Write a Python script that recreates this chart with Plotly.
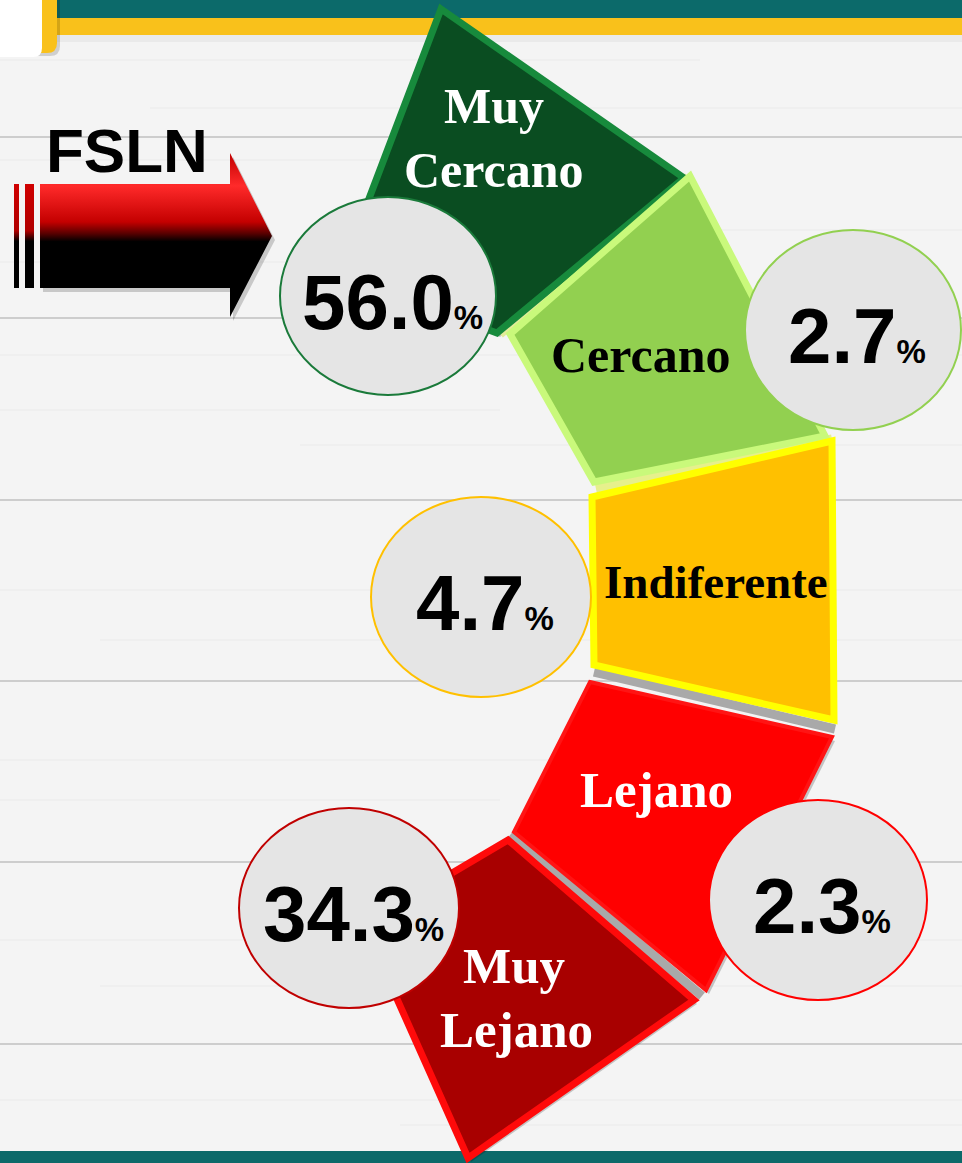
import plotly.graph_objects as go

# ---------------- data ----------------
categories = ["Muy Cercano", "Cercano", "Indiferente", "Lejano", "Muy Lejano"]
values = [56.0, 2.7, 4.7, 2.3, 34.3]
label_lines = [["Muy", "Cercano"], ["Cercano"], ["Indiferente"], ["Lejano"], ["Muy", "Lejano"]]
party = "FSLN"

# ---------------- styles / geometry ----------------
fill_colors = ["#0A4D21", "#92D050", "#FFC000", "#FF0000", "#A80000"]
edge_colors = ["#178A3C", "#C9F97B", "#FFFF00", "#FF1414", "#FF0A0A"]
edge_widths = [7, 7, 7, 4, 7]
label_colors = ["white", "black", "black", "white", "white"]
label_sizes = [50, 50, 47, 51, 51]
ring_colors = ["#1A7A3A", "#92D050", "#FFC000", "#FF0000", "#C00000"]

W, H = 962, 1163

segments = [
    [(441, 9), (684, 178), (497, 333), (340, 275)],
    [(690, 176), (825, 436), (594, 482), (510, 334)],
    [(592, 497), (832, 441), (834, 720), (594, 665)],
    [(590, 682), (832, 737), (706, 990), (514, 832)],
    [(508, 840), (694, 1000), (468, 1158), (364, 925)],
]
gaps = [  # boundary strips between neighbouring segments
    ((596, 489), (832, 439), "#E6F08C"),
    ((594, 672), (835, 729), "#A9A9A9"),
    ((510, 835), (702, 996), "#A9A9A9"),
    ((500, 334), (688, 177), "#E3EC9A"),
]
label_pos = [
    [(494, 106), (494, 170)],
    [(641, 355)],
    [(716, 582)],
    [(656, 790)],
    [(514, 966), (516, 1030)],
]
circles = [  # cx, cy, rx, ry  (one per category, same order)
    (388, 296, 108, 99),
    (853, 330, 108, 100),
    (481, 597, 110, 100),
    (818, 900, 109, 100),
    (349, 908, 110, 100),
]

plank_lines = [137, 318, 500, 681, 862, 1044]
faint_lines = [(60, 0, 700), (108, 150, 962), (160, 0, 400), (230, 600, 962), (262, 0, 300),
               (355, 0, 962), (410, 0, 500), (445, 300, 962), (590, 0, 962), (640, 100, 962),
               (760, 0, 800), (800, 0, 500), (940, 0, 962), (986, 100, 962), (1100, 0, 962),
               (1125, 400, 962)]

fig = go.Figure()
shapes = []
annotations = []

# background planks
for y, xa, xb in faint_lines:
    shapes.append(dict(type="line", xref="x", yref="y", x0=xa, x1=xb, y0=y, y1=y,
                       line=dict(color="#EAEAEA", width=1), layer="below"))
for y in plank_lines:
    shapes.append(dict(type="line", xref="x", yref="y", x0=0, x1=W, y0=y, y1=y,
                       line=dict(color="#CDCDCD", width=2), layer="below"))

# header bars
shapes.append(dict(type="rect", x0=0, x1=W, y0=0, y1=18, line_width=0, fillcolor="#0C6A6A", layer="below"))
shapes.append(dict(type="rect", x0=0, x1=W, y0=18, y1=35, line_width=0, fillcolor="#F9C11B", layer="below"))
shapes.append(dict(type="rect", x0=0, x1=W, y0=35, y1=42, line_width=0, fillcolor="rgba(0,0,0,0.04)", layer="below"))
# top-left box
shapes.append(dict(type="path", path="M 0 0 L 60 0 L 60 46 Q 60 56 50 56 L 0 56 Z",
                   line_width=0, fillcolor="rgba(0,0,0,0.15)", layer="below"))
shapes.append(dict(type="path", path="M 0 0 L 57 0 L 57 43 Q 57 53 47 53 L 0 53 Z",
                   line_width=0, fillcolor="#F9C11B", layer="below"))
shapes.append(dict(type="path", path="M 0 0 L 42 0 L 42 48 Q 42 57 33 57 L 0 57 Z",
                   line_width=0, fillcolor="#FFFFFF", layer="below"))
# footer bar
shapes.append(dict(type="rect", x0=0, x1=W, y0=1151, y1=H, line_width=0, fillcolor="#0C6A6A", layer="above"))


def poly_path(pts, dx=0, dy=0):
    return "M " + " L ".join(f"{x+dx} {y+dy}" for x, y in pts) + " Z"


# segment shadows
for i, pts in enumerate(segments):
    shapes.append(dict(type="path", path=poly_path(pts, 3, 4), line_width=0,
                       fillcolor="rgba(0,0,0,0.20)", layer="above"))
# gap strips
for (x0, y0), (x1, y1), col in gaps:
    shapes.append(dict(type="line", x0=x0, y0=y0, x1=x1, y1=y1,
                       line=dict(color=col, width=9), layer="above"))
# segments
for i, pts in enumerate(segments):
    shapes.append(dict(type="path", path=poly_path(pts), fillcolor=fill_colors[i],
                       line=dict(color=edge_colors[i], width=edge_widths[i]), layer="above"))

# circles with values
for i, (cx, cy, rx, ry) in enumerate(circles):
    shapes.append(dict(type="circle", x0=cx - rx, x1=cx + rx, y0=cy - ry, y1=cy + ry,
                       fillcolor="#E5E5E5", line=dict(color=ring_colors[i], width=2), layer="above"))
    annotations.append(dict(
        x=cx + 4, y=cy + 6, xref="x", yref="y", showarrow=False,
        text=f"<b>{values[i]:.1f}</b><span style='font-size:33px'><b>%</b></span>",
        font=dict(family="Liberation Sans, Arial", size=78, color="black"),
        xanchor="center", yanchor="middle"))

# segment labels
for i, lines in enumerate(label_lines):
    for line_txt, (lx, ly) in zip(lines, label_pos[i]):
        annotations.append(dict(
            x=lx, y=ly, xref="x", yref="y", showarrow=False, text=f"<b>{line_txt}</b>",
            font=dict(family="Liberation Serif, Times New Roman", size=label_sizes[i], color=label_colors[i]),
            xanchor="center", yanchor="middle"))

# FSLN title
annotations.append(dict(x=127, y=150, xref="x", yref="y", showarrow=False, text=f"<b>{party}</b>",
                        font=dict(family="Liberation Sans, Arial", size=62, color="black"),
                        xanchor="center", yanchor="middle"))

# arrow (red / black gradient)
grad = dict(type="vertical", start=153, stop=317,
            colorscale=[[0, "#C00000"], [0.2, "#FF2A2A"], [0.42, "#C40000"],
                        [0.49, "#5A0000"], [0.54, "#000000"], [1, "#000000"]])
arrow_x = [40, 230, 230, 272, 230, 230, 40, 40]
arrow_y = [184, 184, 153, 236, 317, 288, 288, 184]
fig.add_trace(go.Scatter(x=[x + 3 for x in arrow_x], y=[y + 4 for y in arrow_y], mode="lines", fill="toself",
                         fillcolor="rgba(0,0,0,0.18)", line=dict(width=0), hoverinfo="skip", showlegend=False))
fig.add_trace(go.Scatter(x=arrow_x, y=arrow_y, mode="lines", fill="toself", fillgradient=grad,
                         line=dict(width=0), hoverinfo="skip", showlegend=False))
for bx0, bx1 in [(14, 19), (25, 34)]:
    fig.add_trace(go.Scatter(x=[bx0, bx1, bx1, bx0, bx0], y=[184, 184, 288, 288, 184], mode="lines",
                             fill="toself", fillgradient=dict(type="vertical", start=184, stop=288,
                                                              colorscale=[[0, "#D00000"], [0.45, "#B00000"],
                                                                          [0.55, "#000000"], [1, "#000000"]]),
                             line=dict(width=0), hoverinfo="skip", showlegend=False))

fig.update_layout(
    width=W, height=H, margin=dict(l=0, r=0, t=0, b=0),
    paper_bgcolor="#F4F4F4", plot_bgcolor="#F4F4F4",
    xaxis=dict(range=[0, W], visible=False, fixedrange=True),
    yaxis=dict(range=[H, 0], visible=False, fixedrange=True),
    shapes=shapes, annotations=annotations, showlegend=False,
)
fig.write_html("out.html", config={"displayModeBar": False},
               post_script="document.body.style.margin='0';document.body.style.overflow='hidden';")
